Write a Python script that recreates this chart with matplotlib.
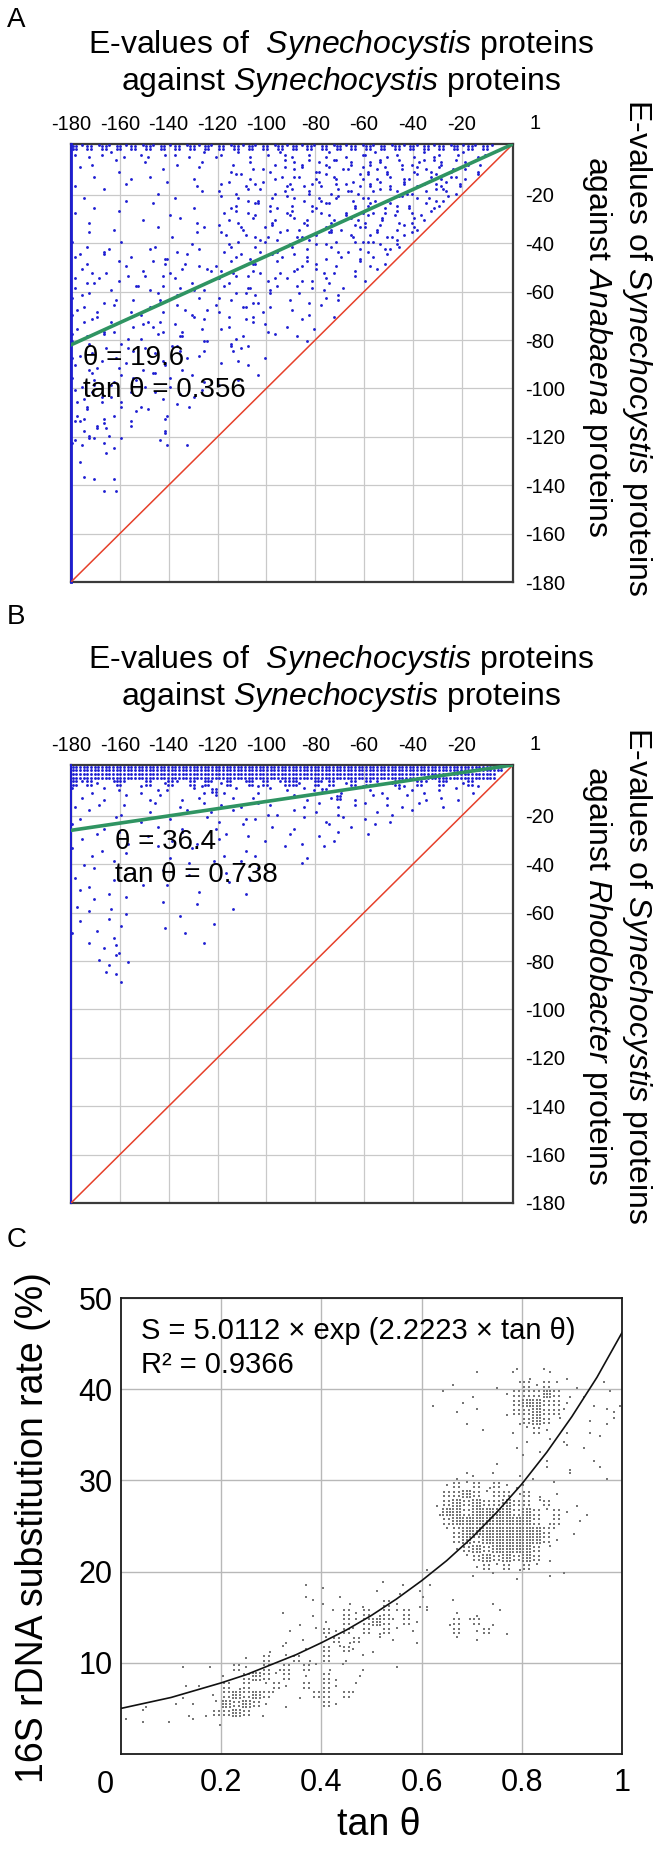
import numpy as np
import matplotlib
matplotlib.use("Agg")
import matplotlib.pyplot as plt

plt.rcParams['font.family'] = ['Liberation Sans', 'DejaVu Sans']
plt.rcParams['mathtext.fontset'] = 'custom'
plt.rcParams['mathtext.rm'] = 'Liberation Sans'
plt.rcParams['mathtext.it'] = 'Liberation Sans:italic'

W, H = 661, 1857

# ---------------- data ----------------
ev_ticks_x = [-180, -160, -140, -120, -100, -80, -60, -40, -20]
ev_ticks_y = [-20, -40, -60, -80, -100, -120, -140, -160, -180]
diag_x = [-180, 1]
diag_y = [-180, 1]
a_fit_x = [-180, 1]
a_fit_y = [-82, 1]
b_fit_x = [-180, 1]
b_fit_y = [-26, 1]
edge_x = [-180, -180]
a_edge_y = [1, -180]
b_edge_y = [1, -180]
a_theta = ["θ = 19.6", "tan θ = 0.356"]
b_theta = ["θ = 36.4", "tan θ = 0.738"]

# point clouds: one character per 3 x 3 cell
# (digit = one point at that keypad position, '#' = four points, '@' = nine)
a_cloud = [
    "#8#9#7#8#9" "#7#8#9#8#7" "#9#8#7#9#8" "#8#7#9#8#9" "#7#9#8#7#8" "#9#8#7#8..",
    "5.2.48.1.5" "2.6.4.1.73" "5.9.2.6.84" "1.5.37.2.6" "48.15.3.72" "4.68.25...",
    "..3...7..." "4...2..6.." "..1.5..3.7" ".2.6.9..4." "3.7..1.5.8" "2..6.3....",
    ".7....2..." "..5....8.." ".3..6..1.." "5..2.7.4.9" ".6.1..3.5." "7.4..2....",
    "...4....1." "6.....3..." "..8.2...6." ".4..9.1..3" "8..5.2.7.4" ".6.3.8....",
    "2......5.." "...7...1.." "5..3..7..2" "..6.1.4.8." "3.7..5.1.6" "2..4......",
    "....8....." ".3.....6.." "..2..9...4" "7.5..2.6.1" ".4.8.3..5." "9.2.......",
    ".6.....2.." "....4....." "8...1..5.." ".3.6..8.2." "5..1.7.4.3" ".8........",
    "...1......" ".7....3..." "..5..8..1." "4..2.7..6." "9.3.5.1.8." "4.........",
    "5.....8..." "...2......" "6...4..7.3" "..9..1.5.." "2.6.8..3.7",
    "..2......6" "....9..1.." "..3....6.." "8.4..2..7." "1.5.3.9.4.",
    ".....3...." ".6......4." "7..2..5..." ".1..6.3.9." "4.7.2.6...",
    "..8......." "...3...7.." ".4...1..8." "3..5.8..2." ".9.3.5....",
    "4.....6..." "......2..." "..6..9...3" ".7.2..4.6." "5.1.8.....",
    "....2....." ".8.....5.." "3....7..1." "..4..8.3.5" "2.6.9.....",
    ".7......4." "...1......" "..5.2...6." "8...3.6..2" ".4.7......",
    "......8..." "..6....2.." ".9...4..7." ".2.5..1..8" "3.6.......",
    "..3......." ".....7...4" "..1.6...2." "5..8.3..6." ".9........",
    "5.....2..." "..8......." "4...7.3..5" ".2..6...9." "1.........",
    "...7....6." "....3....." ".8..2...4." "6.3..7.1..",
    ".2........" ".6....9..." "..5..1.7.." ".4..8.2...",
    "......4..." "..1......." "7...3....6" "..2.9.5...",
    "3........." "....8...2." "...6...4.." "1...7.....",
    "...8.....5" "......3..." ".2....7..." "..5..3....",
    ".6........" "..4.....7." "...9..2..." ".8........",
    "....2....." ".7...1...." "5.....3..8" "...4......",
    "7......3.." "....6....." "..2....9.." "6.........",
    "..5......." "...3....8." ".6..1....." "..7.......",
    ".......9.." ".2......4." "...7......",
    "4...1....." ".....6...." "..3...5...",
    "......2..." "..9......." "8...4.....",
    "..6......." ".4...7...." ".....2....",
    ".....3..8." "........1." "..6.......",
    "2..7......" "...5......" "7.........",
    "....1....." ".8....3...",
    ".9....6..." "....2.....",
    "..4......8" "......7...",
    "6...2....." "..3.......",
    ".7..5...1.",
    "...8......" "..6.......",
    "2.84.7...." "..1.......",
    ".5...3...." "...4.6....",
    "....6.....",
    ".1........",
    "..........",
    ".3........",
    "...7.9....",
    "....2.1...",
]

# second pass over panel A: the denser parts of the cloud
a_cloud_more = [
    "",
    "",
    ".........." ".........." ".........." "5.8.3.7.1." "6.4.9.2.7." "5.8.1.....",
    ".........." ".........." "......4..7" ".8.3...6.." "2.9..4.7.1" ".3.6......",
    ".........." ".........." "...7...3.." "5..2.6...8" ".3.7..1..9" "2.5.......",
    ".........." ".........." ".8...4...6" ".3.9...5.2" "6..2.8..4." ".7.1......",
    ".........." ".........." "4...7..3.." "..2...8.4." "..7.5.2..9" ".4........",
    ".........." ".........." "..6..2...8" "5...1.4..6" ".2..9...6." "3.........",
    ".........." ".........." ".3...7.4.." "..6.9...3." "5..8..4..2",
    ".........." ".........." "..8..1...5" "7...4..2.6" ".4..1.5...",
    ".........." ".........." ".5..9..2.." ".3...6...4" "..8...2...",
    ".........." ".........." "...4...8.2" "..7..2...5" ".3...8.1..",
    ".........." ".........." "8..6..3..." ".2...7..4." "6..1..8...",
    ".........." ".........." ".2....5.7." "..8.3....6" ".4..2.....",
    "..7..4...." "6...2....." ".9...3...." "7.....2..." "...5......",
    "5...8....." "..3..9...." "...7...8.." "..4.......",
    "..4....2.." ".7...5...3" "....6....." "..7.......",
    ".8..3....6" "...2....8." "5....3...." "9...2.....",
    "...6...9.." "7...4....." "..8....6.." "..3.......",
    "2.7......4" "..5...8..." "6...1.....",
    "..5..8...." "9...2...7." "...6...4..",
    "7...2...5." "..4....8.." ".6...2....",
    ".6...9...." "6....2...9" "...5......",
    "4..2....7." "..8...5..." "7...3.....",
    "..9..5...3" "5...1....." "....6.....",
    "6....3..8." "..2....6.." ".8........",
    "..4.8....2" ".9...4...." "...5......",
    "7.....6..." "....2...7." ".3........",
    "..3.9...5." "7...6....." "..4.......",
    ".7....4..." "..2....8..",
    "5..2...8.." "..6.......",
    "..8...3..9" ".5....2...",
    "7..4....6." "...8......",
    ".5...8...." "4......3..",
    "..9..2..7." "....6.....",
    "6...4....." "..8.......",
    "..7...9.3." "5.........",
    ".3...6...." "...4......",
    "8..2....7.",
    ".6..9....." "..3.......",
    "..5...6...",
    "7...8.....",
]

b_cloud = [
    "##########" "##########" "##########" "##########" "##########" "#########.",
    "##########" "##########" "##########" "##########" "##########" "########..",
    "#8#5.9#7.2" "#.6#8.#3#7" "5#.9#2#.8#" "#4.#7#.5#3" "#9.6#2.#8." "#7.5#2....",
    "7.3.8.5..2" ".6.4..9.1#" "3.8..2.7.5" ".9.4#.3.8." "6.2.9.5.1." "4.8.3.....",
    ".5..2..8.." "3.7..1.5.9" "..4.6..2.." "8.1..5#.3." ".7.4.9..2." "5.3.......",
    "2..6...4.." ".8..3...7." "5..1.8.4.." ".3.9..2.6." "7..4.1.8.." "3.........",
    "..8...3..." "6..2.9...4" "..7...3.1." "8..5..2..." ".6.3..8...",
    ".4....7..2" "...5....8." "1..6.4...." ".9..3..7.." "4..2......",
    "7...2....." ".6...1...3" "...8...5.." "2....7..4." ".8........",
    "...5..8..." "2....7...." ".4..1....6" "...3..8..." "5.........",
    ".8.....3.." "...6...1.." "7.....5..." ".2...6....",
    "4...1....." ".9....5..." "...3.....7" "....8.....",
    "..6....8.." "...2......" "6....4...." "..1.......",
    ".3...9...." "......4..8" "...7......" ".5........",
    "...7....2." "..5......." ".1...8....",
    "5....3...." "......7..." "....2.....",
    "..2......6" "...4......" ".8........",
    ".7...1...." ".......5.." "...3......",
    "...4...8.." "..2.......",
    "6....2...." ".......7.." "..1.......",
    "..8....5.." "....3.....",
    ".4...7...." ".........2",
    "...2..9..." "..6.......",
    "7....3...." ".....8....",
    "..5...1..." "........4.",
    "....8.2...",
    "...3..7...",
    ".....4.9..",
    "....6.1...",
    "......3...",
]

# panel C: one character per 0.02 (tan theta) x 1 % cell, top row = 42-43 %
c_cloud = [
    ".........." ".........." ".........." ".........2" "..1.......",
    ".........." ".........." ".........." ".....8...7" "3.9.2.....",
    ".........." ".........." ".........." "...4...2.9" "#5#8.2..7.",
    ".........." ".........." ".........." "..7..1..5#" "##@#3.1.9.",
    ".........." ".........." ".........." ".1..4....#" "@@##5..1.3",
    ".........." ".........." ".........." "...5.8..2#" "#@##7...84",
    ".........." ".........." ".........." "....2....3" "#@#9..6.27",
    ".........." ".........." ".........." "......4..1" "8#5.2.3...",
    ".........." ".........." ".........." ".........." "2.6.1..9..",
    ".........." ".........." ".........." ".........5" ".3..8.4...",
    ".........." ".........." ".........." ".........." "7.2....1..",
    ".........." ".........." ".........." ".......8.." "..5.3..6..",
    ".........." ".........." ".........." "...284.7.6" ".1..9...2.",
    ".........." ".........." ".........." "..5#8#3#52" "4..7......",
    ".........." ".........." ".........." "..##@#8##6" "#3.5......",
    ".........." ".........." ".........." ".2#@#@##@#" "#9#..2....",
    ".........." ".........." ".........." ".3@@#@@@@#" "@#8#5.2...",
    ".........." ".........." ".........." "..#@@@@@@@" "@#3#.6....",
    ".........." ".........." ".........." "..8#@@@@@@" "@@#7.1....",
    ".........." ".........." ".........." "...#@#@@@@" "@@#5......",
    ".........." ".........." ".........." "...5#@#@@@" "@#9.......",
    ".........." ".........." ".........." "....8#@#@#" "@#3.......",
    ".........." ".........." ".........." "2....5#8#3" "#8........",
    ".........." ".........." ".........." ".....4.7.2" "..6.7.....",
    ".........." "........5." "1.....7.4." "6.........",
    ".........." "........2." ".3...8.6.9" "1.........",
    ".........." ".........7" "4.6.1.#5.3" "2..7...4..",
    ".........." "......4..1" ".7#5#3#8#." "8..5.2.9..",
    ".........." ".......3.." "5.#8#@#7#5" "..3#9#.1..",
    ".........." "......6..8" "#5#7#3#8.4" "...#.5#.2.",
    ".........." "......2.4." "8#3#.9.4.2" "...8.5....",
    ".........." "....3.7.5." "#9#4.1....",
    ".........." "..5.#.8#3." "#.2.7.....",
    "......4.6." ".#5.#3#.#8" "3.7.1..5..",
    ".........." "4.#@#8#.5." "#2.6......",
    "......56.." "#3#.8#5.#." "#5.8......",
    "......1..4" "#@#@#7.3.#" "#.#7......",
    "..2..5.4.8" "@#@#5.2..." "#5........",
    "..7...3.2#" "#@#.1.....",
    "8.4.6..7.3",
]

# fitted curve
curve_x = [0, 0.05, 0.1, 0.15, 0.2, 0.25, 0.3, 0.35, 0.4, 0.45, 0.5,
           0.55, 0.6, 0.65, 0.7, 0.75, 0.8, 0.85, 0.9, 0.95, 1.0]
curve_y = [5.0, 5.6, 6.2, 7.0, 7.8, 8.7, 9.8, 10.9, 12.2, 13.6, 15.2,
           17.0, 19.0, 21.2, 23.7, 26.5, 29.6, 33.1, 37.0, 41.3, 46.2]
c_ticks_x = [0.2, 0.4, 0.6, 0.8, 1.0]
c_ticklabels_x = ["0.2", "0.4", "0.6", "0.8", "1"]
c_ticks_y = [10, 20, 30, 40, 50]

# keypad sub-positions inside a cell
SUB = {str(d): [((d - 1) % 3 / 3 + 1 / 6, (d - 1) // 3 / 3 + 1 / 6)] for d in range(1, 10)}
SUB['#'] = [(0.25, 0.25), (0.75, 0.25), (0.25, 0.75), (0.75, 0.75)]
SUB['@'] = [(i / 3 + 1 / 6, j / 3 + 1 / 6) for i in range(3) for j in range(3)]


def unpack(rows, x0, y0, dx, dy):
    xs, ys = [], []
    for r, row in enumerate(rows):
        for c, ch in enumerate(row):
            for fx, fy in SUB.get(ch, []):
                xs.append(x0 + (c + fx) * dx)
                ys.append(y0 - (r + 1 - fy) * dy)
    return np.array(xs), np.array(ys)


def rect(left, right, top, bottom):
    return [left / W, 1 - bottom / H, (right - left) / W, (bottom - top) / H]


BLUE = '#1e1ed2'
RED = '#e6402a'
GREEN = '#2f9462'
GRID = '#c9c9c9'

fig = plt.figure(figsize=(W / 100, H / 100), dpi=100)


def ev_panel(box, clouds, fit_y, edge_y, theta_txt, theta_pos, edge_lw):
    ax = fig.add_axes(box)
    ax.set_xlim(-180, 1)
    ax.set_ylim(-180, 1)
    ax.xaxis.tick_top()
    ax.yaxis.tick_right()
    ax.set_xticks(ev_ticks_x, [str(t) for t in ev_ticks_x])
    ax.set_yticks(ev_ticks_y, [str(t) for t in ev_ticks_y])
    ax.tick_params(length=0, labelsize=14.5)
    ax.tick_params(axis='x', pad=7)
    ax.tick_params(axis='y', pad=9)
    ax.grid(True, color=GRID, lw=0.9)
    ax.set_axisbelow(True)
    for s in ax.spines.values():
        s.set_color('#3a3a3a')
        s.set_linewidth(1.6)
    for cloud in clouds:
        xs, ys = unpack(cloud, -180, 1, 3, 3)
        ax.scatter(xs, ys, s=4.2, c=BLUE, lw=0, zorder=3)
    ax.plot(edge_x, edge_y, color=BLUE, lw=edge_lw, zorder=3, clip_on=False)
    ax.plot(diag_x, diag_y, color=RED, lw=1.1, zorder=4)
    ax.plot(a_fit_x, fit_y, color=GREEN, lw=2.6, zorder=5)
    ax.annotate('1', xy=(1, 1), xytext=(16, 15), textcoords='offset points',
                ha='center', va='center', fontsize=14.5, annotation_clip=False)
    ax.text(theta_pos[0], theta_pos[1], theta_txt[0], fontsize=20, va='center', zorder=6)
    ax.text(theta_pos[0], theta_pos[1] - 13.3, theta_txt[1], fontsize=20, va='center', zorder=6)
    return ax


ev_panel(rect(71, 513, 144, 582), [a_cloud, a_cloud_more], a_fit_y, a_edge_y,
         a_theta, (-175, -87.4), 2.0)
ev_panel(rect(71, 513, 765, 1203), [b_cloud], b_fit_y, b_edge_y,
         b_theta, (-162, -31), 1.4)

# titles and side labels
title1 = "E-values of  $\\mathit{Synechocystis}$ proteins"
title2 = "against $\\mathit{Synechocystis}$ proteins"
side_outer = "E-values of $\\mathit{Synechocystis}$ proteins"
for y1, y2 in [(45, 82), (660, 697)]:
    fig.text(341 / W, 1 - y1 / H, title1, fontsize=23, ha='center', va='center')
    fig.text(341 / W, 1 - y2 / H, title2, fontsize=23, ha='center', va='center')
for yc, inner in [(347, "against $\\mathit{Anabaena}$ proteins"),
                  (975, "against $\\mathit{Rhodobacter}$ proteins")]:
    fig.text(637 / W, 1 - yc / H, side_outer, fontsize=23, rotation=-90, ha='center', va='center')
    fig.text(597 / W, 1 - yc / H, inner, fontsize=23, rotation=-90, ha='center', va='center')

for lbl, (x, y) in zip("ABC", [(16, 20), (16, 617), (17, 1240)]):
    fig.text(x / W, 1 - y / H, lbl, fontsize=20, ha='center', va='center')

# panel C
axc = fig.add_axes(rect(121, 622, 1298, 1754))
axc.set_xlim(0, 1)
axc.set_ylim(0, 50)
axc.set_xticks(c_ticks_x, c_ticklabels_x)
axc.set_yticks(c_ticks_y, [str(t) for t in c_ticks_y])
axc.tick_params(length=0, labelsize=22)
axc.tick_params(axis='x', pad=10)
axc.tick_params(axis='y', pad=6)
axc.grid(True, color='#b8b8b8', lw=1.0)
axc.set_axisbelow(True)
for s in axc.spines.values():
    s.set_color('#1a1a1a')
    s.set_linewidth(1.3)
cx, cy = unpack(c_cloud, 0, 43, 0.02, 1.0)
axc.scatter(cx, cy, s=2.6, marker='s', c='#767676', lw=0, zorder=3)
axc.plot(curve_x, curve_y, color='#111111', lw=1.2, zorder=4)
axc.annotate('0', xy=(0, 0), xytext=(-11.5, -22), textcoords='offset points',
             ha='center', va='center', fontsize=22, annotation_clip=False)
axc.text(0.04, 46.4, "S = 5.0112 × exp (2.2223 × tan θ)", fontsize=21, va='center')
axc.text(0.04, 42.6, "R² = 0.9366", fontsize=21, va='center')
fig.text(33 / W, 1 - 1528 / H, "16S rDNA substitution rate (%)", fontsize=27,
         rotation=90, ha='center', va='center')
fig.text(379 / W, 1 - 1825 / H, "tan θ", fontsize=27, ha='center', va='center')

fig.savefig("out.png", dpi=100)
